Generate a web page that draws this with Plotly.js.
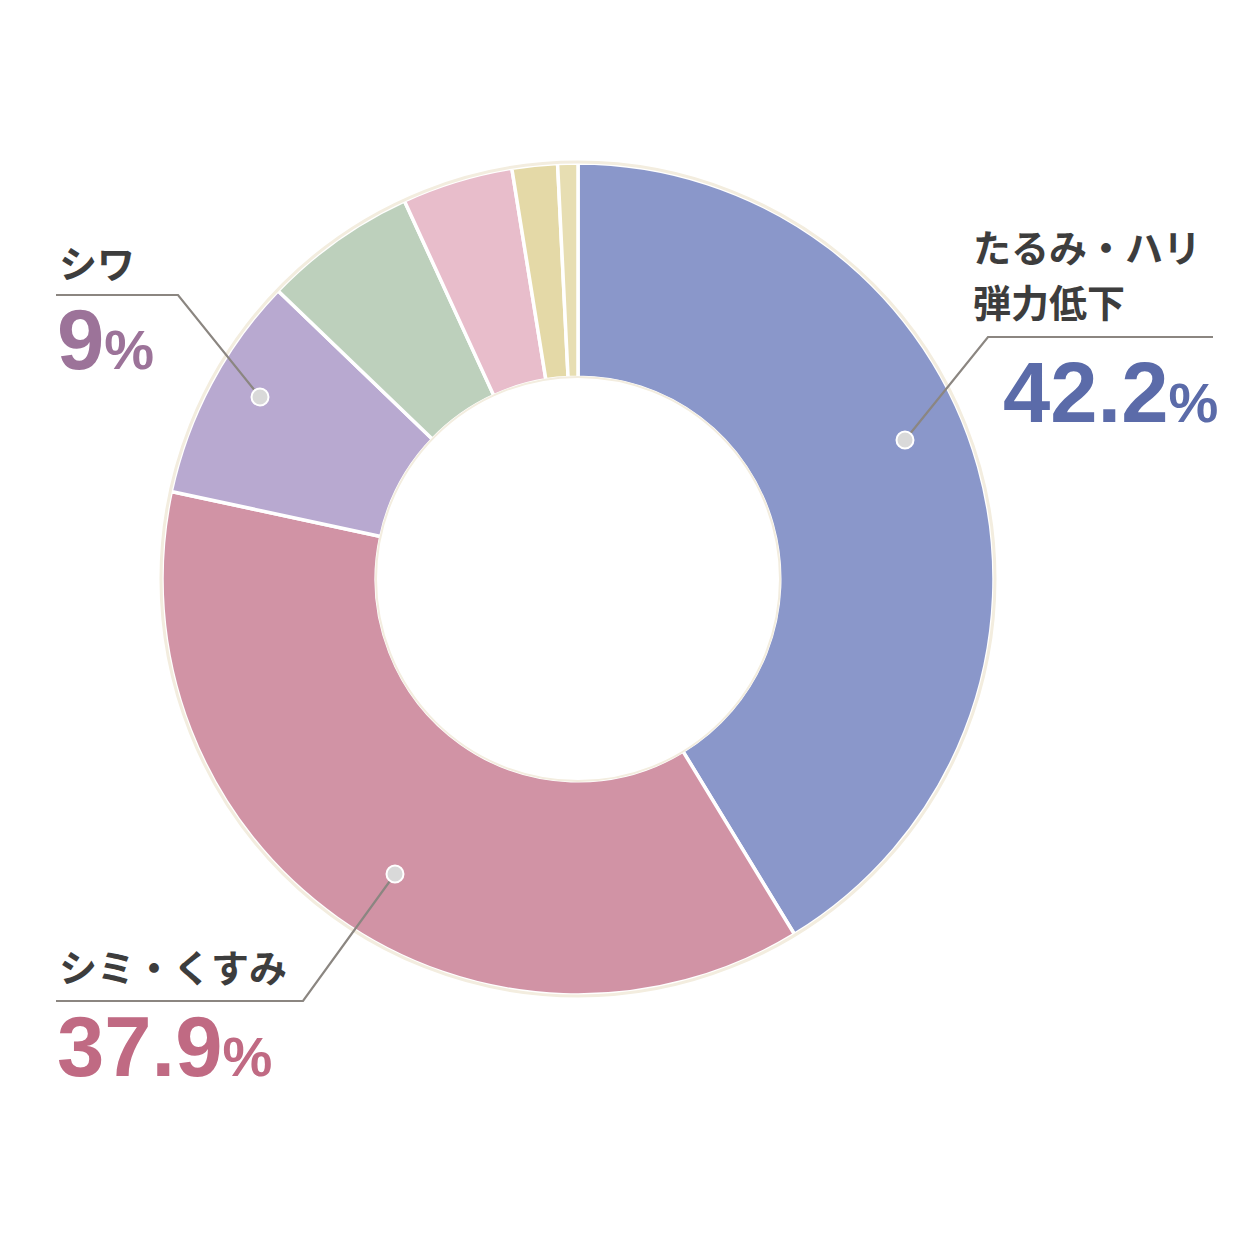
<!DOCTYPE html>
<html><head><meta charset="utf-8">
<script src="https://cdn.plot.ly/plotly-3.0.1.min.js"></script>
<style>html,body{margin:0;padding:0;background:#fff;}#chart{width:1254px;height:1254px;}</style>
</head><body><div id="chart"></div>
<script>
// data
const categories = ['たるみ・ハリ\n弾力低下', 'シミ・くすみ', 'シワ', 'その他1', 'その他2', 'その他3', 'その他4'];
const values = [42.2, 37.9, 9.0, 6.1, 4.4, 1.8, 0.8];
const sliceColors = ['#8A97CA', '#D193A5', '#B8A9D0', '#BDD0BC', '#E8BDCB', '#E4D9A7', '#E7DEB2'];
const labelValueText = ['42.2', '37.9', '9'];
const labelValueColors = ['#5B6BA9', '#C06A83', '#9C7399'];

const W = 1254, H = 1254;
const px = x => x / W, py = y => 1 - y / H;
const cx = 578, cy = 579, R = 416;

const trace = {
  type: 'pie',
  labels: categories.map(c => c.replace('\n', '')),
  values: values,
  sort: false,
  direction: 'clockwise',
  rotation: 0,
  hole: 0.485,
  textinfo: 'none',
  hoverinfo: 'label+value',
  marker: { colors: sliceColors, line: { color: '#FFFFFF', width: 3.5 } },
  domain: { x: [px(cx - R), px(cx + R)], y: [py(cy + R), py(cy - R)] },
  showlegend: false
};

// label layout: name lines, value, leader line path, dot
const labelSpecs = [
  { nameX: 971, nameY: [245, 300], valX: 1001, valY: 392, path: [[905, 440], [988, 337], [1213, 337]] },
  { nameX: 57, nameY: [965], valX: 55, valY: 1046, path: [[395, 874], [303, 1001], [56, 1001]] },
  { nameX: 57, nameY: [262], valX: 55, valY: 339, path: [[260, 397], [178, 295], [56, 295]] }
];

const annotations = [];
const shapes = [];
const txtFont = { family: '"Noto Sans CJK JP", sans-serif', size: 38, color: '#3D3D3D', weight: 'bold' };
const numFont = { family: '"Liberation Sans", Arial, sans-serif', size: 85, weight: 'bold' };

labelSpecs.forEach((s, i) => {
  const lines = categories[i].split('\n');
  lines.forEach((ln, j) => {
    annotations.push({ xref: 'paper', yref: 'paper', x: px(s.nameX), y: py(s.nameY[j]), xanchor: 'left', yanchor: 'middle',
      text: ln, showarrow: false, font: txtFont });
  });
  annotations.push({ xref: 'paper', yref: 'paper', x: px(s.valX), y: py(s.valY), xanchor: 'left', yanchor: 'middle',
    text: labelValueText[i] + "<span style='font-size:56px'>%</span>", showarrow: false,
    font: Object.assign({}, numFont, { color: labelValueColors[i] }) });
  const p = s.path.map((pt, k) => (k ? 'L' : 'M') + px(pt[0]).toFixed(5) + ',' + py(pt[1]).toFixed(5)).join(' ');
  shapes.push({ type: 'path', xref: 'paper', yref: 'paper', path: p, line: { color: '#8B8681', width: 2.2 }, layer: 'above' });
  const d = s.path[0];
  const r = 8.5;
  shapes.push({ type: 'circle', xref: 'paper', yref: 'paper', x0: px(d[0] - r), x1: px(d[0] + r), y0: py(d[1] + r), y1: py(d[1] - r),
    fillcolor: '#D9D9D9', line: { color: '#FFFFFF', width: 2 }, layer: 'above' });
});

// faint cream outer / inner rim
shapes.unshift({ type: 'circle', xref: 'paper', yref: 'paper', x0: px(cx - R - 1), x1: px(cx + R + 1), y0: py(cy + R + 1), y1: py(cy - R - 1),
  line: { color: '#F3EDDF', width: 3 }, layer: 'above' });
shapes.unshift({ type: 'circle', xref: 'paper', yref: 'paper', x0: px(cx - 202), x1: px(cx + 202), y0: py(cy + 202), y1: py(cy - 202),
  line: { color: '#F3EDDF', width: 2 }, layer: 'above' });

const layout = {
  width: W, height: H,
  margin: { l: 0, r: 0, t: 0, b: 0 },
  paper_bgcolor: '#FFFFFF',
  annotations: annotations,
  shapes: shapes,
  showlegend: false
};

Plotly.newPlot('chart', [trace], layout, { displayModeBar: false, staticPlot: true });
</script>
</body></html>
